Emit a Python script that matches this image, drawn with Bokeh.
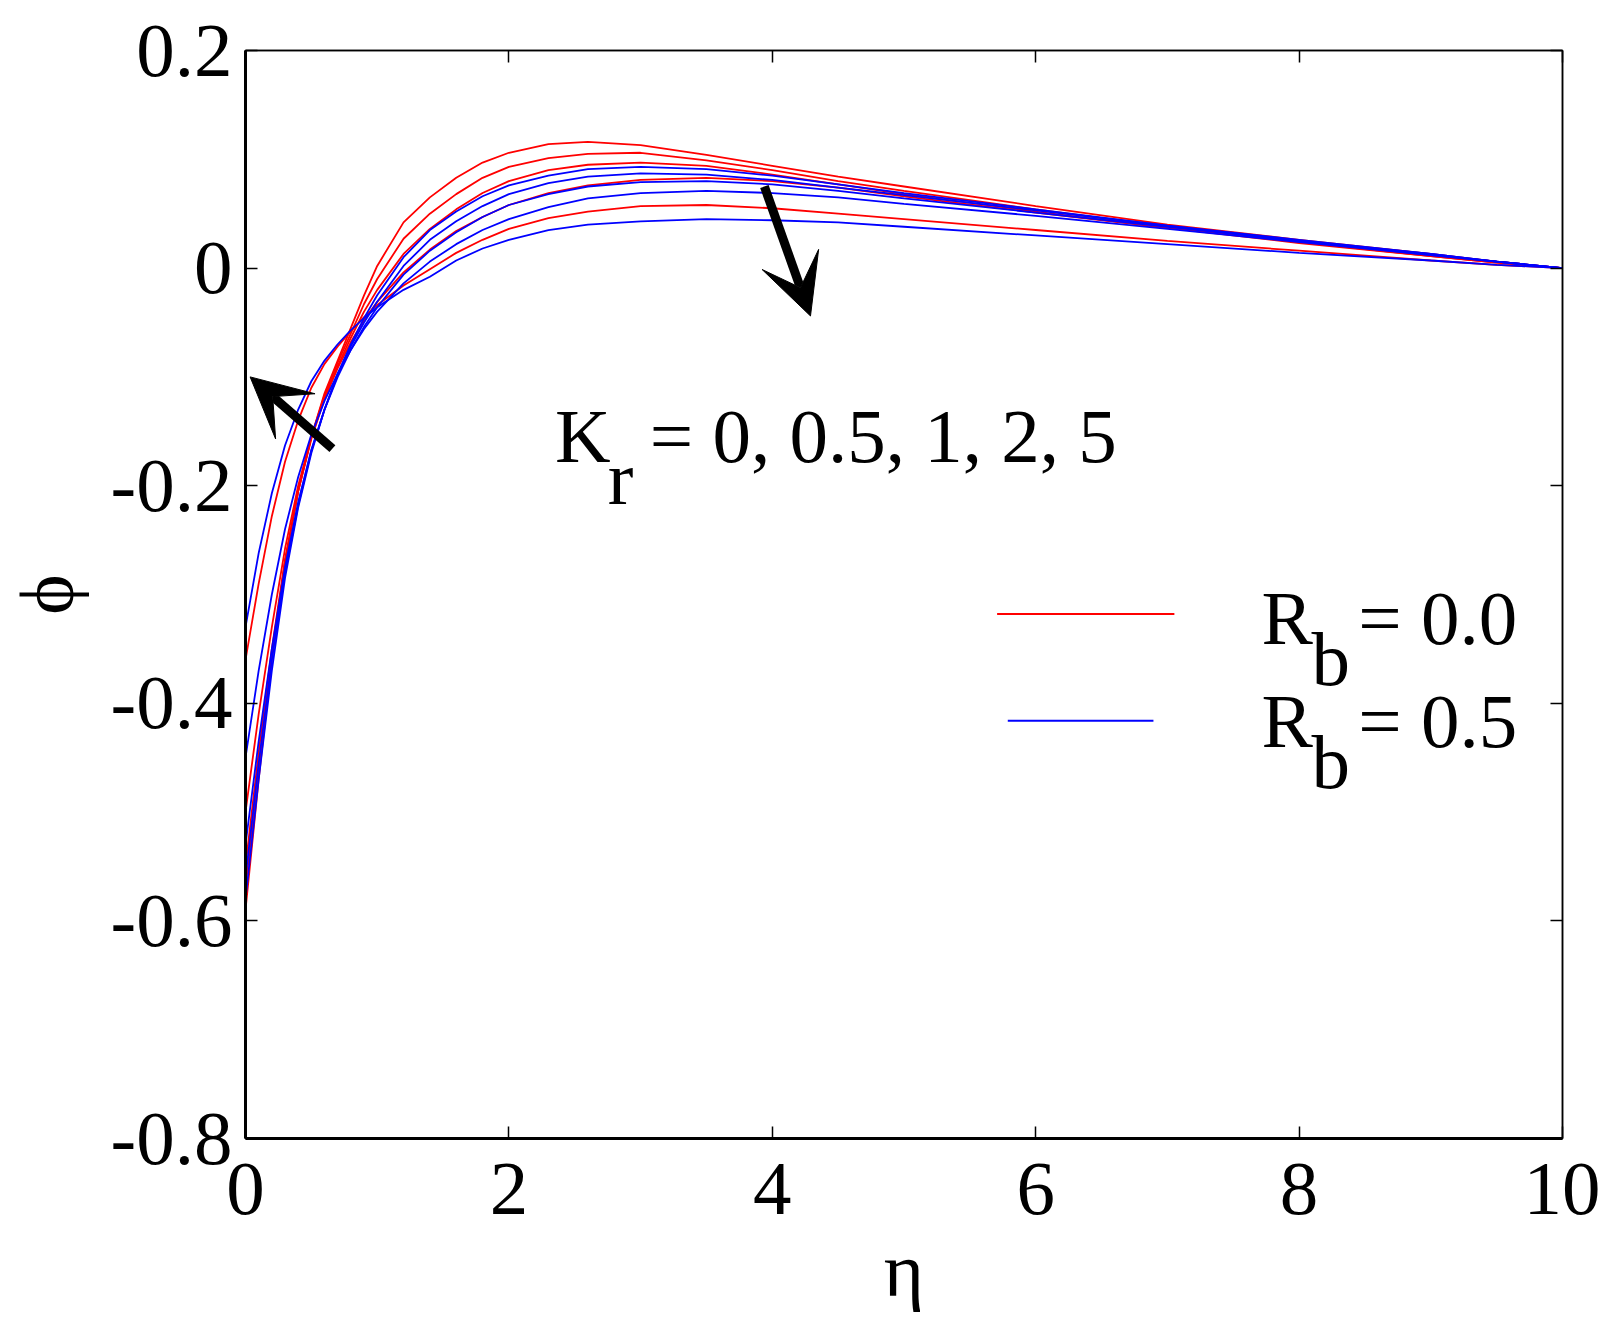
from bokeh.plotting import figure
from bokeh.models import Range1d, FixedTicker, LinearAxis, Arrow, VeeHead, Label
from bokeh.embed import file_html
from bokeh.resources import INLINE

# eta grid and phi profiles
eta = [0, 0.1, 0.2, 0.3, 0.4, 0.5, 0.6, 0.7, 0.8, 0.9, 1.0, 1.2, 1.4, 1.6, 1.8,
       2.0, 2.3, 2.6, 3.0, 3.5, 4.0, 4.5, 5.0, 6.0, 7.0, 8.0, 9.0, 9.5, 10]

# Rb = 0.0 (red), Kr = 0, 0.5, 1, 2, 5
red_kr0 = [-0.59, -0.47, -0.36, -0.27, -0.205, -0.155, -0.115, -0.085, -0.055, -0.025, 0.002,
           0.042, 0.065, 0.083, 0.097, 0.106, 0.114, 0.116, 0.113, 0.104, 0.094, 0.084,
           0.075, 0.057, 0.040, 0.026, 0.013, 0.006, 0.0]
red_kr05 = [-0.57, -0.46, -0.355, -0.27, -0.205, -0.155, -0.117, -0.087, -0.06, -0.033, -0.01,
            0.027, 0.050, 0.068, 0.083, 0.093, 0.101, 0.105, 0.106, 0.099, 0.090, 0.080,
            0.071, 0.054, 0.038, 0.024, 0.011, 0.005, 0.0]
red_kr1 = [-0.55, -0.445, -0.35, -0.268, -0.205, -0.157, -0.12, -0.09, -0.064, -0.04, -0.02,
           0.013, 0.036, 0.054, 0.069, 0.080, 0.090, 0.095, 0.097, 0.094, 0.086, 0.077,
           0.068, 0.052, 0.037, 0.023, 0.011, 0.005, 0.0]
red_kr2 = [-0.50, -0.41, -0.33, -0.258, -0.2, -0.155, -0.12, -0.092, -0.068, -0.048, -0.031,
           -0.004, 0.017, 0.034, 0.047, 0.058, 0.069, 0.076, 0.081, 0.083, 0.080, 0.074,
           0.066, 0.051, 0.037, 0.024, 0.012, 0.006, 0.0]
red_kr5 = [-0.36, -0.29, -0.228, -0.178, -0.14, -0.11, -0.088, -0.072, -0.058, -0.045, -0.034,
           -0.016, -0.001, 0.014, 0.026, 0.036, 0.046, 0.052, 0.057, 0.058, 0.055, 0.050,
           0.045, 0.035, 0.025, 0.016, 0.007, 0.003, 0.0]

# Rb = 0.5 (blue)
blue_kr0 = [-0.58, -0.47, -0.37, -0.285, -0.22, -0.17, -0.13, -0.097, -0.07, -0.046, -0.025,
            0.010, 0.035, 0.052, 0.066, 0.076, 0.085, 0.091, 0.093, 0.091, 0.085, 0.077,
            0.069, 0.054, 0.039, 0.025, 0.012, 0.006, 0.0]
blue_kr05 = [-0.56, -0.455, -0.36, -0.28, -0.218, -0.168, -0.13, -0.098, -0.072, -0.05, -0.031,
             0.002, 0.026, 0.043, 0.057, 0.068, 0.078, 0.084, 0.087, 0.086, 0.081, 0.074,
             0.067, 0.053, 0.039, 0.026, 0.013, 0.006, 0.0]
blue_kr1 = [-0.53, -0.435, -0.35, -0.275, -0.215, -0.167, -0.13, -0.1, -0.075, -0.054, -0.036,
            -0.006, 0.016, 0.033, 0.047, 0.058, 0.068, 0.075, 0.079, 0.080, 0.077, 0.071,
            0.064, 0.051, 0.038, 0.025, 0.013, 0.006, 0.0]
blue_kr2 = [-0.45, -0.37, -0.30, -0.24, -0.192, -0.153, -0.122, -0.097, -0.075, -0.056, -0.04,
            -0.014, 0.006, 0.022, 0.035, 0.045, 0.056, 0.064, 0.069, 0.071, 0.069, 0.065,
            0.059, 0.048, 0.036, 0.024, 0.012, 0.006, 0.0]
blue_kr5 = [-0.33, -0.262, -0.207, -0.163, -0.13, -0.104, -0.085, -0.07, -0.057, -0.046, -0.036,
            -0.02, -0.008, 0.007, 0.018, 0.026, 0.035, 0.040, 0.043, 0.045, 0.044, 0.042,
            0.038, 0.030, 0.022, 0.014, 0.007, 0.003, 0.0]

x_ticks = [0, 2, 4, 6, 8, 10]
y_ticks = [-0.8, -0.6, -0.4, -0.2, 0, 0.2]
y_tick_labels = ["-0.8", "-0.6", "-0.4", "-0.2", "0", "0.2"]

FONT = "Liberation Serif"
FS = "77px"

p = figure(width=1600, height=1317, output_backend="svg", toolbar_location=None,
           x_range=Range1d(0, 10), y_range=Range1d(-0.8, 0.2),
           min_border_left=241, min_border_right=38, min_border_top=50, min_border_bottom=179)
p.grid.visible = False
p.outline_line_color = "black"
p.outline_line_width = 1.5

for ys in [red_kr0, red_kr05, red_kr1, red_kr2, red_kr5]:
    p.line(eta, ys, line_color="#ff0000", line_width=1.8)
for ys in [blue_kr0, blue_kr05, blue_kr1, blue_kr2, blue_kr5]:
    p.line(eta, ys, line_color="#0000ff", line_width=1.8)

def style_axis(ax, width):
    ax.axis_line_width = width
    ax.major_tick_in = 12
    ax.major_tick_out = 0
    ax.major_tick_line_width = 1.5
    ax.minor_tick_line_color = None
    ax.major_label_text_font = FONT
    ax.major_label_text_color = "black"
    ax.major_label_text_font_size = FS
    ax.axis_label_text_font = FONT
    ax.axis_label_text_font_style = "normal"
    ax.axis_label_text_font_size = FS
    ax.axis_label_text_color = "black"

style_axis(p.xaxis[0], 3)
style_axis(p.yaxis[0], 3)
p.xaxis.ticker = FixedTicker(ticks=x_ticks)
p.yaxis.ticker = FixedTicker(ticks=y_ticks)
p.yaxis.major_label_overrides = dict(zip(y_ticks, y_tick_labels))
p.xaxis.major_label_standoff = 25
p.yaxis.major_label_standoff = 13
p.xaxis.axis_label = "η"
p.xaxis.axis_label_standoff = 10
p.yaxis.axis_label = "ϕ"
p.yaxis.axis_label_standoff = 18

top = LinearAxis(ticker=FixedTicker(ticks=x_ticks))
right = LinearAxis(ticker=FixedTicker(ticks=y_ticks))
for ax, ticks in [(top, x_ticks), (right, y_ticks)]:
    style_axis(ax, 1.5)
    ax.major_label_overrides = {t: "" for t in ticks}
    ax.major_label_text_font_size = "1px"
    ax.major_label_standoff = 0
p.add_layout(top, "above")
p.add_layout(right, "right")

# arrows showing the effect of increasing Kr
p.add_layout(Arrow(end=VeeHead(size=60, fill_color="black", line_color="black"),
                   x_start=3.94, y_start=0.075, x_end=4.29, y_end=-0.044,
                   line_width=9, line_color="black"))
p.add_layout(Arrow(end=VeeHead(size=60, fill_color="black", line_color="black"),
                   x_start=0.66, y_start=-0.166, x_end=0.035, y_end=-0.10,
                   line_width=9, line_color="black"))

def label(x, y, text):
    p.add_layout(Label(x=x, y=y, text=text, text_font=FONT, text_font_size=FS,
                       text_baseline="alphabetic", text_align="left", text_color="black"))

label(2.35, -0.154, "K")
label(2.75, -0.193, "r")
label(3.07, -0.154, "= 0, 0.5, 1, 2, 5")

# legend
p.line([5.707, 7.053], [-0.318, -0.318], line_color="#ff0000", line_width=2)
p.line([5.788, 6.894], [-0.416, -0.416], line_color="#0000ff", line_width=2)
label(7.715, -0.322, "R")
label(8.095, -0.359, "b")
label(8.45, -0.322, "= 0.0")
label(7.715, -0.416, "R")
label(8.095, -0.454, "b")
label(8.45, -0.416, "= 0.5")

open("out.html", "w").write(file_html(p, INLINE))
